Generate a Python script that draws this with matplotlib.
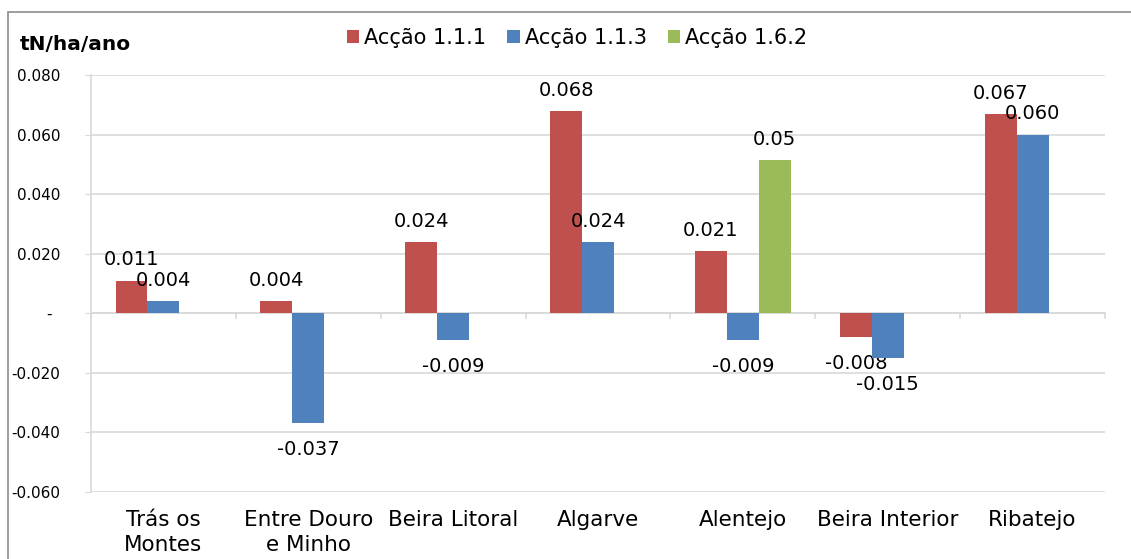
import numpy as np
import matplotlib
matplotlib.use("Agg")
import matplotlib.pyplot as plt
from matplotlib.patches import Rectangle

regioes = ["Trás os\nMontes", "Entre Douro\ne Minho", "Beira Litoral", "Algarve",
           "Alentejo", "Beira Interior", "Ribatejo"]
series = ["Acção 1.1.1", "Acção 1.1.3", "Acção 1.6.2"]
accao_111 = [0.011, 0.004, 0.024, 0.068, 0.021, -0.008, 0.067]
accao_113 = [0.004, -0.037, -0.009, 0.024, -0.009, -0.015, 0.060]
accao_162 = [np.nan, np.nan, np.nan, np.nan, 0.0515, np.nan, np.nan]
fmt_162 = "{:.2f}"
cores = ["#C0504D", "#4F81BD", "#9BBB59"]
yticks = [-0.06, -0.04, -0.02, 0.0, 0.02, 0.04, 0.06, 0.08]

plt.rcParams['font.family'] = ['DejaVu Sans']

fig = plt.figure(figsize=(11.31, 5.59), dpi=100)
ax = fig.add_axes([91/1131, 1-492/559, (1105-91)/1131, (492-75)/559])

# moldura exterior do gráfico
fig.patches.append(Rectangle((8/1131, -0.05), 1.2, 1-12/559+0.05, transform=fig.transFigure,
                             fill=False, edgecolor="#8c8c8c", linewidth=1.2))

x = np.arange(len(regioes))
w = 0.22
dados = [accao_111, accao_113, accao_162]
fmts = ["{:.3f}", "{:.3f}", fmt_162]
for k, (vals, cor, nome, f) in enumerate(zip(dados, cores, series, fmts)):
    pos = x + (k - 1) * w
    ax.bar(pos, vals, width=w, color=cor, label=nome, zorder=3)
    for xi, v in zip(pos, vals):
        if np.isnan(v):
            continue
        if v >= 0:
            ax.annotate(f.format(v), (xi, v), xytext=(0, 8), textcoords="offset points",
                        ha="center", va="bottom", fontsize=14)
        else:
            ax.annotate(f.format(v), (xi, v), xytext=(0, -12), textcoords="offset points",
                        ha="center", va="top", fontsize=14)

ax.set_xlim(-0.5, len(regioes) - 0.5)
ax.set_ylim(-0.06, 0.08)
ax.set_yticks(yticks)
ax.set_yticklabels(["-\u2002" if t == 0 else "{:.3f}".format(t) for t in yticks], fontsize=11)
ax.grid(axis="y", color="#d9d9d9", linewidth=1.2, zorder=0)
ax.tick_params(axis="y", length=4.3, color="#d9d9d9", pad=18)
for s in ["top", "right", "bottom"]:
    ax.spines[s].set_visible(False)
ax.spines["left"].set_color("#d9d9d9")
ax.spines["left"].set_linewidth(1.2)
ax.axhline(0, color="#d9d9d9", linewidth=1.2, zorder=2)

# marcas das categorias sobre o eixo zero
ax.set_xticks(x)
ax.set_xticklabels(regioes, fontsize=15.5, linespacing=1.3)
ax.tick_params(axis="x", length=0, pad=13)
for b in np.arange(len(regioes) + 1) - 0.5:
    ax.plot([b, b], [0, -0.0017], color="#d9d9d9", linewidth=1.2, zorder=2, clip_on=False)

fig.text(20/1131, 1-44/559, "tN/ha/ano", fontsize=14.5, fontweight="bold", va="center")
fig.legend(loc="center", bbox_to_anchor=(577/1131, 1-38/559), ncol=3, frameon=False,
           fontsize=15, handlelength=0.6, handleheight=0.6, handletextpad=0.25,
           columnspacing=1.0)

fig.savefig("out.png", dpi=100)
